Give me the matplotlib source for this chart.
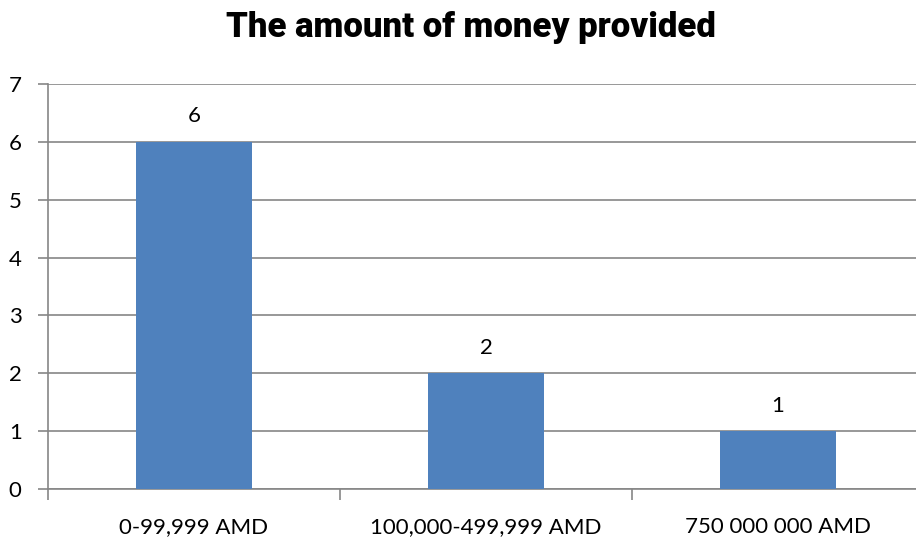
import matplotlib.pyplot as plt

categories = ["0-99,999 AMD", "100,000-499,999 AMD", "750 000 000 AMD"]
counts = [6, 2, 1]
y_ticks = [0, 1, 2, 3, 4, 5, 6, 7]

W, H = 916, 539
fig = plt.figure(figsize=(W / 100, H / 100), dpi=100)
ax = fig.add_axes([48 / W, (H - 489) / H, (924 - 48) / W, (489 - 84) / H])

gray = "#868686"
ax.bar(range(len(categories)), counts, width=0.4, color="#4F81BD", zorder=3)
for i, v in enumerate(counts):
    ax.text(i, v + 0.27, str(v), ha="center", va="bottom", fontsize=16,
            family="Lato", color="black")

ax.set_xlim(-0.5, len(categories) - 0.5)
ax.set_ylim(0, 7)
ax.set_yticks(y_ticks)
ax.set_xticks([-0.5, 0.5, 1.5, 2.5])
ax.set_xticklabels([])
ax.set_xticks(range(len(categories)), minor=True)
ax.set_xticklabels(categories, minor=True, fontsize=16, family="Lato")
ax.tick_params(axis="x", which="minor", length=0, pad=20)
ax.tick_params(axis="x", which="major", length=8, color=gray, width=1.2)
ax.tick_params(axis="y", length=7, color=gray, width=1.2, pad=12, labelsize=16)
for lab in ax.get_yticklabels():
    lab.set_family("Lato")

ax.grid(axis="y", color=gray, linewidth=1.2, zorder=0)
for s in ["top", "right"]:
    ax.spines[s].set_visible(False)
ax.spines["left"].set_color(gray)
ax.spines["bottom"].set_color(gray)
ax.spines["left"].set_linewidth(1.2)
ax.spines["bottom"].set_linewidth(1.2)

fig.text(471 / W, 1 - 28 / H, "The amount of money provided", ha="center",
         va="center", fontsize=25, fontweight="black", family="Roboto",
         fontstretch="condensed")

fig.savefig("out.png", dpi=100)
